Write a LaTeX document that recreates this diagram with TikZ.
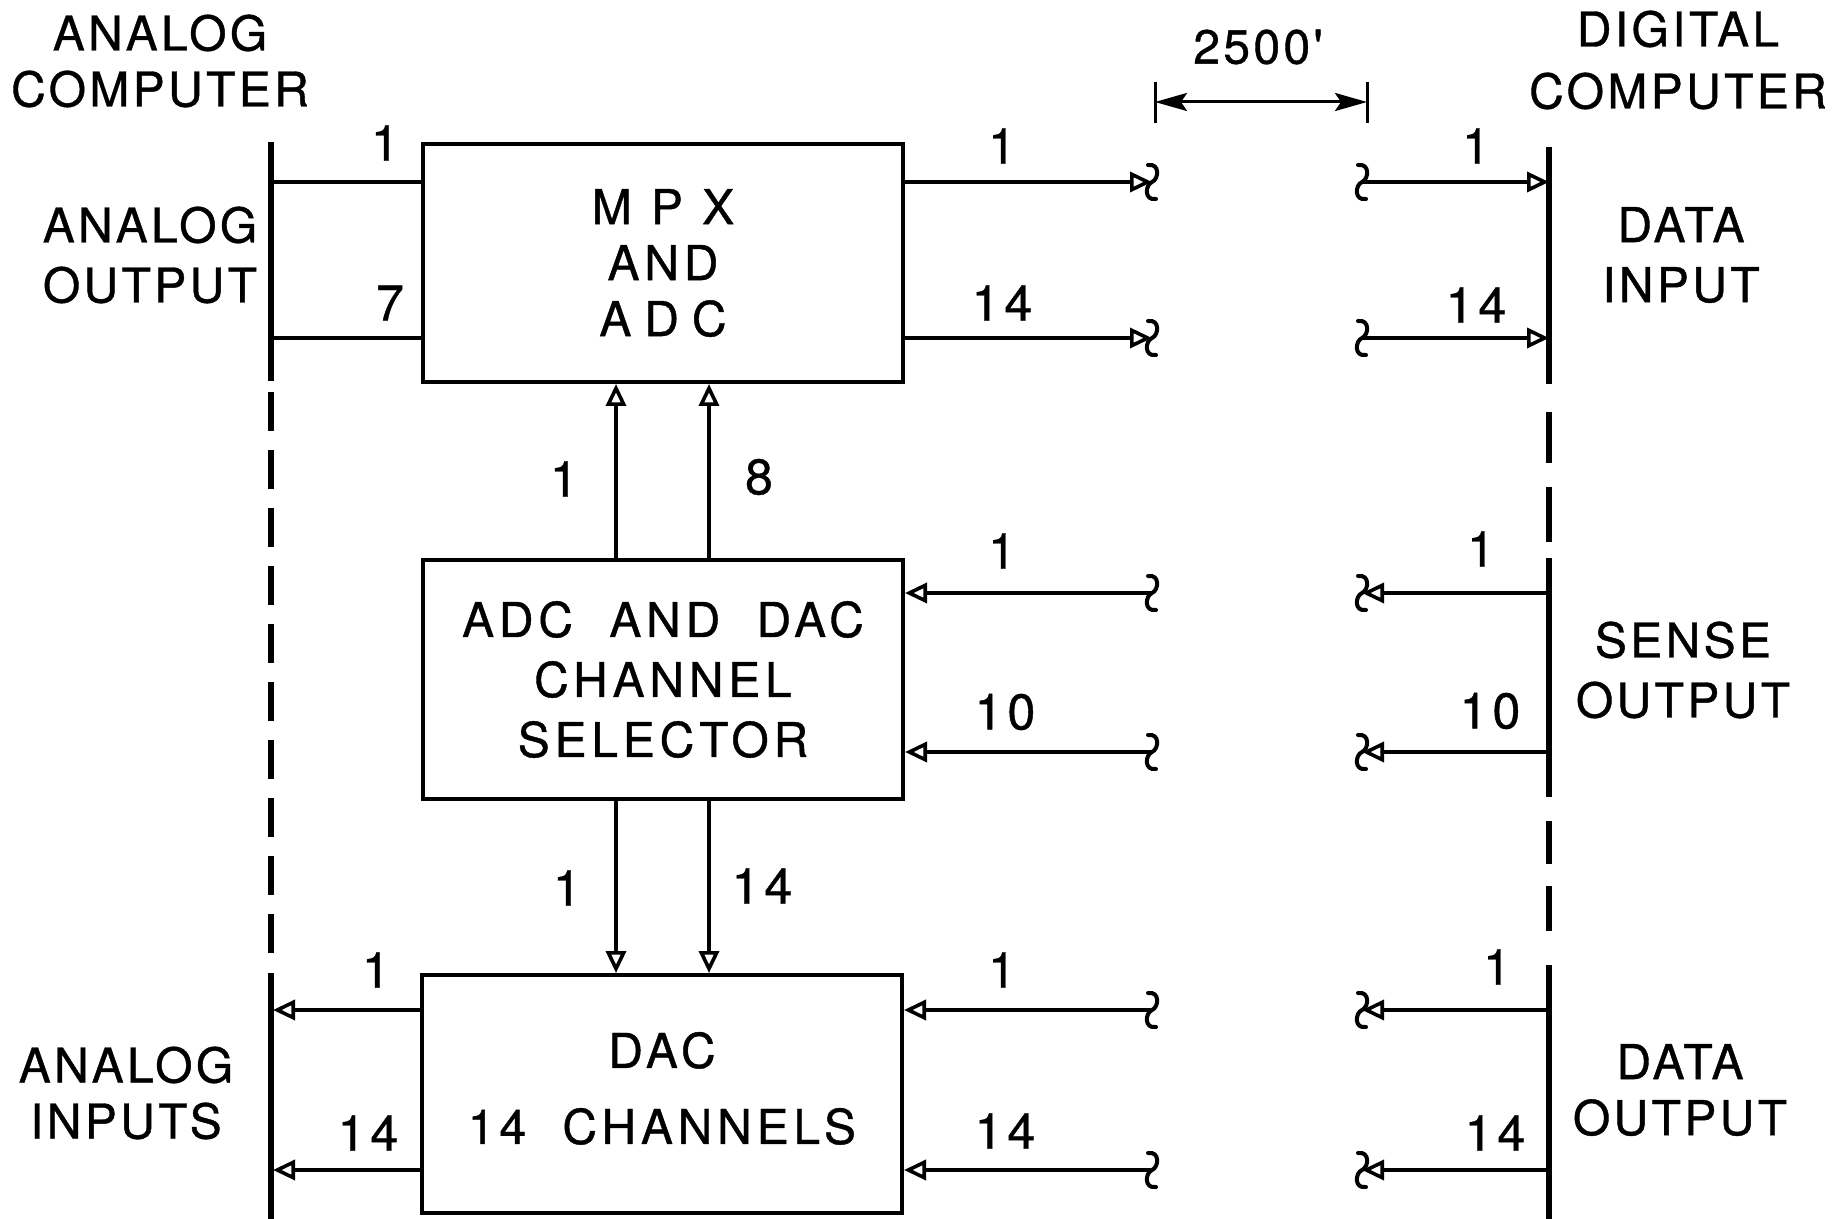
\documentclass[tikz,border=0pt]{standalone}
\usepackage{fontspec}
\setmainfont{TeX Gyre Heros}
\newfontfamily\lbl[LetterSpace=7,FakeBold=0.8]{TeX Gyre Heros}
\newfontfamily\lblnum[LetterSpace=10,FakeBold=0.8]{TeX Gyre Heros}
\newfontfamily\lblwide[LetterSpace=40,FakeBold=0.8]{TeX Gyre Heros}
\newfontfamily\lblmid[LetterSpace=27,FakeBold=0.8]{TeX Gyre Heros}
\usetikzlibrary{arrows.meta,calc}
\begin{document}
\begin{tikzpicture}[x=0.5pt,y=-0.5pt,
  txt/.style={font=\lbl\fontsize{24}{28}\selectfont, inner sep=0pt, align=center},
  num/.style={font=\lblnum\fontsize{25}{28}\selectfont, inner sep=0pt},
  box/.style={draw, line width=2pt, minimum width=240pt, minimum height=119pt, inner sep=0pt, align=center, font=\lblnum\fontsize{24}{28}\selectfont},
  bus/.style={line width=3.2pt},
  wire/.style={line width=1.8pt},
  sig/.style={wire, -{Triangle[open, length=11pt, width=10pt, line width=1.8pt]}},
  dimline/.style={line width=1.5pt},
  dimarrow/.style={line width=1.5pt, {Stealth[length=16pt,width=9pt,inset=3pt]}-{Stealth[length=16pt,width=9pt,inset=3pt]}},
  brk/.pic={\draw[line width=2pt, line cap=round] (-4,-17) .. controls (8,-19) and (7,-3) .. (0,0) .. controls (-7,3) and (-8,19) .. (4,17);}
]
\useasboundingbox (0,0) rectangle (1832,1219);

% ---- boxes ----
\node[box] (mpx) at (663,263) {{\lblwide MPX}\\AND\\{\lblmid ADC}};
\node[box] (sel) at (663,679.5) {ADC \ AND \ DAC\\[2pt]CHANNEL\\[2pt]SELECTOR};
\node[box] (dac) at (662,1094) {DAC\\[10pt]14 \ CHANNELS\\[-22pt]};

% ---- side texts ----
\node[txt] (ac) at (160,61) {ANALOG\\COMPUTER};
\node[txt] (ao) at (150,255) {ANALOG\\[2pt]OUTPUT};
\node[txt] (ai) at (126,1093) {ANALOG\\INPUTS};
\node[txt] (dc) at (1678,60) {DIGITAL\\[3pt]COMPUTER};
\node[txt] (di) at (1681,255) {DATA\\[2pt]INPUT};
\node[txt] (so) at (1683,670) {SENSE\\[2pt]OUTPUT};
\node[txt] (do) at (1680,1090) {DATA\\OUTPUT};
\node[txt] (dist) at (1258,47) {2500'};

% ---- buses ----
\coordinate (LT) at (271,142);
\coordinate (LB) at (271,1219);
\draw[bus] (LT) -- (271,381);
\draw[bus, dash pattern=on 19.5pt off 9.5pt] (271,392) -- (271,955);
\draw[bus] (271,973) -- (LB);
\coordinate (RT) at (1549,147);
\coordinate (RB) at (1549,1219);
\draw[bus] (RT) -- (1549,384) (1549,412) -- (1549,463) (1549,487) -- (1549,542)
  (1549,558) -- (1549,797) (1549,821) -- (1549,864) (1549,886) -- (1549,931)
  (1549,965) -- (RB);

% ---- break marks ----
\foreach \yy/\nm in {182/a,338/b,593/c,752/d,1010/e,1170/f}{
  \coordinate (bl\nm) at (1152,\yy);
  \coordinate (br\nm) at (1362,\yy);
  \coordinate (bus\nm) at (1549,\yy);
  \pic at (bl\nm) {brk};
  \pic at (br\nm) {brk};
}

% ---- MPX inputs / outputs ----
\coordinate (ina) at (271,182);
\coordinate (inb) at (271,338);
\draw[wire] (ina) -- (ina -| mpx.west);
\draw[wire] (inb) -- (inb -| mpx.west);
\draw[sig] (bla -| mpx.east) -- (bla);
\draw[sig] (blb -| mpx.east) -- (blb);
\draw[sig] (bra) -- (busa);
\draw[sig] (brb) -- (busb);

% ---- sense ----
\draw[sig] (busc) -- (brc);
\draw[sig] (busd) -- (brd);
\draw[sig] (blc) -- (blc -| sel.east);
\draw[sig] (bld) -- (bld -| sel.east);

% ---- data output ----
\draw[sig] (buse) -- (bre);
\draw[sig] (busf) -- (brf);
\draw[sig] (ble) -- (ble -| dac.east);
\draw[sig] (blf) -- (blf -| dac.east);
\coordinate (oute) at (273,1010);
\coordinate (outf) at (273,1170);
\draw[sig] (oute -| dac.west) -- (oute);
\draw[sig] (outf -| dac.west) -- (outf);

% ---- vertical links ----
\coordinate (c1) at (616,0);
\coordinate (c2) at (709,0);
\draw[sig] (sel.north -| c1) -- (mpx.south -| c1);
\draw[sig] (sel.north -| c2) -- (mpx.south -| c2);
\draw[sig] (sel.south -| c1) -- (dac.north -| c1);
\draw[sig] (sel.south -| c2) -- (dac.north -| c2);

% ---- dimension ----
\coordinate (dL) at (1155,102);
\coordinate (dR) at (1367,102);
\draw[dimline] (1155,82) -- (1155,123);
\draw[dimline] (1367,82) -- (1367,123);
\draw[dimarrow] (dL) -- (dR);

% ---- counts ----
\node[num] at (385,143) {1};
\node[num] at (390,303) {7};
\node[num] at (1002,146) {1};
\node[num] at (1002,303) {14};
\node[num] at (1476,146) {1};
\node[num] at (1476,305) {14};
\node[num] at (564,479) {1};
\node[num] at (759,477) {8};
\node[num] at (1002,551) {1};
\node[num] at (1005,712) {10};
\node[num] at (1481,549) {1};
\node[num] at (1490,711) {10};
\node[num] at (567,888) {1};
\node[num] at (762,886) {14};
\node[num] at (376,970) {1};
\node[num] at (368,1133) {14};
\node[num] at (1002,970) {1};
\node[num] at (1005,1131) {14};
\node[num] at (1497,967) {1};
\node[num] at (1495,1133) {14};
\end{tikzpicture}
\end{document}
